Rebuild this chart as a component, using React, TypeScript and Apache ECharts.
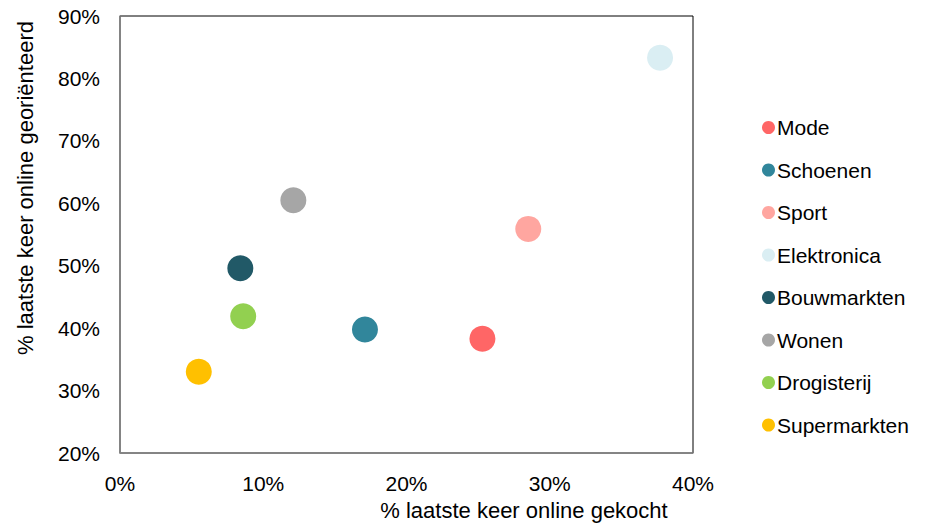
import React, { useEffect, useRef } from "react";
import * as echarts from "echarts";

const categories = ["Mode", "Schoenen", "Sport", "Elektronica", "Bouwmarkten", "Wonen", "Drogisterij", "Supermarkten"];
const boughtOnline = [25.3, 17.1, 28.5, 37.7, 8.4, 12.1, 8.6, 5.5];
const orientedOnline = [38.3, 39.8, 55.9, 83.3, 49.6, 60.5, 41.9, 33.0];
const colors = ["#FF6666", "#31869B", "#FFA6A0", "#DAEEF3", "#215967", "#A6A6A6", "#92D050", "#FFC000"];
const xTicks = [0, 10, 20, 30, 40];
const yTicks = [20, 30, 40, 50, 60, 70, 80, 90];
const xTitle = "% laatste keer online gekocht";
const yTitle = "% laatste keer online georiënteerd";

const FONT = "'Liberation Sans', Arial, sans-serif";

export default function App() {
  const ref = useRef<HTMLDivElement>(null);
  useEffect(() => {
    if (!ref.current) return;
    const chart = echarts.init(ref.current, undefined, { renderer: "svg" });
    chart.setOption({
      animation: false,
      backgroundColor: "#ffffff",
      textStyle: { fontFamily: FONT },
      grid: {
        left: 120,
        right: 239,
        top: 16,
        bottom: 72,
        show: true,
        borderColor: "#000000",
        borderWidth: 1,
        containLabel: false,
      },
      xAxis: {
        type: "value",
        min: xTicks[0],
        max: xTicks[xTicks.length - 1],
        interval: 10,
        axisLine: { show: true, lineStyle: { color: "#868686", width: 1.5 } },
        axisTick: { show: false },
        splitLine: { show: false },
        axisLabel: { formatter: "{value}%", color: "#000", fontSize: 21, margin: 20, fontFamily: FONT },
      },
      yAxis: {
        type: "value",
        min: yTicks[0],
        max: yTicks[yTicks.length - 1],
        interval: 10,
        axisLine: { show: true, lineStyle: { color: "#868686", width: 1.5 } },
        axisTick: { show: false },
        splitLine: { show: false },
        axisLabel: { formatter: "{value}%", color: "#000", fontSize: 21, margin: 20, fontFamily: FONT },
      },
      legend: {
        orient: "vertical",
        left: 757,
        top: 112,
        icon: "circle",
        itemWidth: 13,
        itemHeight: 13,
        itemGap: 21.5,
        data: categories,
        textStyle: { color: "#000", fontSize: 21, fontFamily: FONT, padding: [0, 0, 0, -3] },
      },
      graphic: [
        {
          type: "text",
          x: 524,
          y: 510,
          style: { text: xTitle, fill: "#000", font: `22px ${FONT}`, textAlign: "center", textVerticalAlign: "middle" },
        },
        {
          type: "text",
          x: 25,
          y: 188,
          rotation: Math.PI / 2,
          style: { text: yTitle, fill: "#000", font: `22px ${FONT}`, textAlign: "center", textVerticalAlign: "middle" },
        },
      ],
      series: categories.map((name, i) => ({
        name,
        type: "scatter",
        symbol: "circle",
        symbolSize: 26,
        itemStyle: { color: colors[i], opacity: 1 },
        data: [[boughtOnline[i], orientedOnline[i]]],
      })),
    });
    return () => chart.dispose();
  }, []);
  return <div ref={ref} style={{ position: "fixed", left: 0, top: 0, width: 932, height: 525, background: "#fff" }} />;
}
